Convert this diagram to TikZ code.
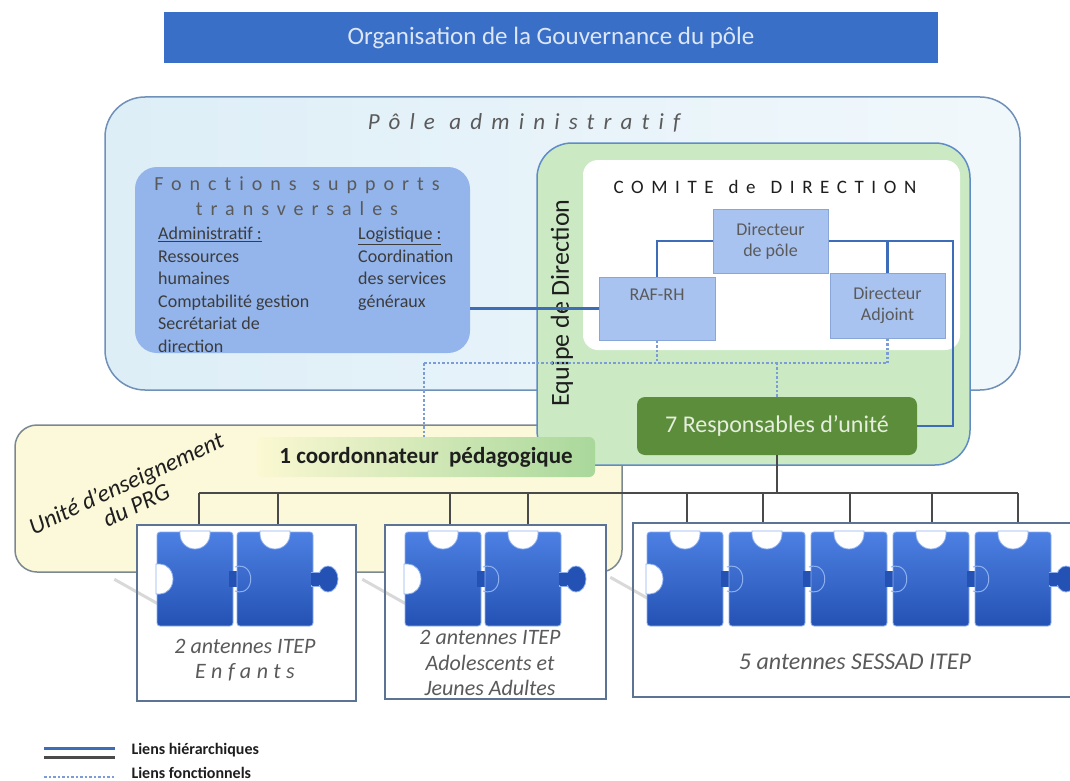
\documentclass[tikz,border=0pt]{standalone}
\usepackage{fontspec}
\setmainfont{Carlito}
\newfontfamily\espace[LetterSpace=40, Ligatures=NoCommon]{Carlito}
\newfontfamily\espacelarge[LetterSpace=25, Ligatures=NoCommon]{Carlito}
\usepackage{tikz}
\usetikzlibrary{positioning,calc}

\definecolor{titreBleu}{HTML}{3A6FC8}
\definecolor{titreTexte}{HTML}{DCE6F5}
\definecolor{poleFond}{HTML}{DDEEF7}
\definecolor{poleBord}{HTML}{6F90B8}
\definecolor{foncFond}{HTML}{93B5EC}
\definecolor{texteGris}{HTML}{5A5A5A}
\definecolor{texteFonce}{HTML}{3C3C3C}
\definecolor{texteNoir}{HTML}{1E1E1E}
\definecolor{uniteFond}{HTML}{FBF9DA}
\definecolor{uniteBord}{HTML}{7C8890}
\definecolor{equipeFond}{HTML}{CBEAC4}
\definecolor{equipeBord}{HTML}{5F8CC6}
\definecolor{posteFond}{HTML}{A9C3F0}
\definecolor{posteBord}{HTML}{8AA6D8}
\definecolor{respFond}{HTML}{5B8D3B}
\definecolor{respTexte}{HTML}{E6EEDD}
\definecolor{coordG}{HTML}{FBF8D2}
\definecolor{coordD}{HTML}{A9D89B}
\definecolor{lienBleu}{HTML}{3D6DB8}
\definecolor{lienNoir}{HTML}{4A4A4A}
\definecolor{lienPoint}{HTML}{7C9CD8}
\definecolor{panBord}{HTML}{5C7393}
\definecolor{pzClair}{HTML}{4C80E2}
\definecolor{pzFonce}{HTML}{2452B4}
\definecolor{pzBord}{HTML}{8EB0EE}

% #1 = x of first piece, #2 = step, #3 = number of pieces
\newcommand{\puzzle}[3]{%
  \foreach \k in {1,...,#3}{%
    \pgfmathsetmacro{\px}{#1+(\k-1)*#2}%
    \ifnum\k>1 \path[fill=pzFonce] (\px-8,571) rectangle (\px+2,587); \fi
    \path[draw=pzBord, line width=0.8pt, top color=pzClair, bottom color=pzFonce, rounded corners=3pt] (\px,532) rectangle ++(76,94);
    \path[draw=pzBord, line width=0.8pt, fill=white] (\px+23,531) -- (\px+23,534) arc[start angle=180, end angle=360, x radius=15pt, y radius=15pt] -- (\px+53,531) -- cycle;
    \ifnum\k>1 \path[draw=pzBord, line width=1pt] (\px-2,567) .. controls (\px+19,560) and (\px+19,598) .. (\px-2,591); \fi
  }%
  \path[draw=pzBord, line width=0.8pt, fill=white] (#1-1,564) -- (#1+3,564) arc[start angle=90, end angle=-90, x radius=13pt, y radius=15pt] -- (#1-1,594) -- cycle;
  \pgfmathsetmacro{\pz}{#1+(#3-1)*#2+76}%
  \path[fill=pzFonce, draw=pzBord, line width=0.8pt] (\pz-2,572) rectangle ++(9,14);
  \path[fill=pzFonce, draw=pzBord, line width=0.8pt] (\pz+15,579) ellipse (10pt and 13pt);
  \path[fill=pzFonce] (\pz-2,573) rectangle ++(10,12);
}

\begin{document}
\begin{tikzpicture}[x=1pt,y=-1pt,
  cadre/.style={inner sep=0pt},
  poste/.style={draw=posteBord, fill=posteFond, line width=1pt, inner sep=0pt, minimum width=115pt, minimum height=64pt, align=center, font=\fontsize{18}{21}\selectfont, text=texteGris},
  panneau/.style={draw=panBord, fill=white, line width=1.5pt, inner sep=0pt},
  antenne/.style={font=\fontsize{22}{25.5}\selectfont\itshape, text=texteGris, align=center},
  colonne/.style={inner sep=0pt, anchor=north west, align=left, font=\fontsize{18}{22.5}\selectfont, text=texteFonce},
  legende/.style={anchor=west, font=\bfseries\fontsize{16}{18}\selectfont, text=texteNoir},
  lienB/.style={draw=lienBleu, line width=2.5pt},
  lienN/.style={draw=lienNoir, line width=2pt},
  lienF/.style={draw=lienPoint, line width=2.5pt, dash pattern=on 2.5pt off 2pt}]
\useasboundingbox (0,0) rectangle (1070,781);

\path node[cadre, fill=titreBleu, minimum width=774pt, minimum height=51pt, text=titreTexte, font=\fontsize{25}{28}\selectfont] (titre) at (551,37.5) {Organisation de la Gouvernance du pôle};

\path node[cadre, rounded corners=40pt, draw=poleBord, line width=1.5pt, left color=poleFond, right color=poleFond!40!white, minimum width=915pt, minimum height=293pt] (pole) at (562.5,243.5) {};
\path node[font=\espace\fontsize{23}{26}\selectfont\itshape, text=texteGris] (poleTitre) at (524,123) {Pôle administratif};

\path node[cadre, rounded corners=22pt, fill=foncFond, minimum width=335pt, minimum height=186pt] (fonc) at (302.5,260) {};
\path node[align=center, font=\espace\fontsize{20}{25}\selectfont, text=texteGris] (foncTitre) at (297,196) {Fonctions\hspace{3pt} supports\\transversales};
\path node[colonne] (admin) at (158,227) {\underline{Administratif :}\\Ressources\\humaines\\Comptabilité gestion\\Secrétariat de\\direction};
\path node[colonne] (logi) at (358,227) {\underline{Logistique :}\\Coordination\\des services\\généraux};

\path node[cadre, rounded corners=22pt, draw=uniteBord, line width=1.5pt, fill=uniteFond, minimum width=607pt, minimum height=147pt] (unite) at (318.5,498.5) {};
\path node[rotate=25, align=center, font=\fontsize{24}{24}\selectfont\itshape, text=texteNoir] (uniteTitre) at (131,494) {Unité d’enseignement\\du PRG};

\path node[cadre, rounded corners=35pt, draw=equipeBord, line width=1.5pt, fill=equipeFond, minimum width=433pt, minimum height=322pt] (equipe) at (753.5,304) {};
\path node[rotate=90, font=\fontsize{26}{28}\selectfont, text=texteNoir] (equipeTitre) at (562,303) {Equipe de Direction};
\path node[cadre, rounded corners=15pt, fill=white, minimum width=377pt, minimum height=190pt] (comite) at (771.5,255) {};
\path node[font=\espace\fontsize{19}{22}\selectfont, text=texteNoir] (comiteTitre) at (765,187) {COMITE\hspace{3pt} de\hspace{3pt} DIRECTION};

\path node[cadre, rounded corners=8pt, fill=respFond, minimum width=280pt, minimum height=58pt, text=respTexte, font=\fontsize{24}{26}\selectfont] (resp) at (777,426) {7 Responsables d’unité};
\path node[poste] (dp) at (770.5,241) {Directeur\\de pôle};
\path node[poste, minimum width=116pt, minimum height=63pt] (raf) at (657,308.5) {RAF-RH\\\strut};
\path node[poste, minimum height=65pt] (adj) at (887.5,305.5) {Directeur\\Adjoint};

\coordinate (coin) at (953,241);
\path[lienB] (fonc.east |- raf.west) -- (raf.west);
\path[lienB] (dp.west) -| (raf.north);
\path[lienB] (dp.east) -| (adj.north);
\path[lienB] (dp.east) -- (coin) |- (resp.east);

\path node[cadre, rounded corners=6pt, left color=coordG, right color=coordD, minimum width=338pt, minimum height=40pt, font=\bfseries\fontsize{23}{26}\selectfont, text=texteNoir] (coord) at (426,457) {1 coordonnateur~ pédagogique};

\coordinate (fl) at (424,363);
\path[lienF] (raf.south) -- (raf.south |- fl);
\path[lienF] (adj.south) -- (adj.south |- fl);
\path[lienF] (fl) -- (fl -| adj.south);
\path[lienF] (resp.north) -- (resp.north |- fl);
\path[lienF] (fl) -- (fl |- coord.north);

\path node[panneau, minimum width=219pt, minimum height=176pt] (pan1) at (246.5,613) {};
\path node[panneau, minimum width=221pt, minimum height=174pt] (pan2) at (495.5,612) {};
\path node[panneau, minimum width=452pt, minimum height=174pt] (pan3) at (859,610) {};

\foreach \i/\x/\p in {1/199/pan1, 2/278/pan1, 3/450/pan2, 4/528/pan2, 5/687/pan3, 6/763/pan3, 7/850/pan3, 8/932/pan3, 9/1018/pan3}{
  \coordinate (b\i) at (\x,493);
  \path[lienN] (b\i) -- (b\i |- \p.north);
}
\path[lienN] (b1) -- (b9);
\path[lienN] (resp.south) -- (resp.south |- b1);

\foreach \p in {pan1,pan2,pan3}
  \path[draw=gray, opacity=0.3, line width=3pt] ($(\p.north west)+(-22,55)$) -- ++(64,36);

\puzzle{157}{80}{2}
\puzzle{405}{80}{2}
\puzzle{647}{82}{5}

\path node[antenne] (txt1) at (245,660) {2 antennes ITEP\\{\espacelarge Enfants}};
\path node[antenne] (txt2) at (490,663) {2 antennes ITEP\\Adolescents et\\Jeunes Adultes};
\path node[antenne, font=\fontsize{24}{26}\selectfont\itshape] (txt3) at (855,662) {5 antennes SESSAD ITEP};

\coordinate (lgA) at (44,748);
\coordinate (lgB) at (44,757);
\coordinate (lgC) at (44,777);
\path[lienB, line width=3pt] (lgA) -- ++(71,0);
\path[lienN, line width=3pt] (lgB) -- ++(71,0);
\path[lienF] (lgC) -- ++(71,0);
\path node[legende] (lgH) at (128,750) {Liens hiérarchiques};
\path node[legende] (lgF) at (128,773) {Liens fonctionnels};
\end{tikzpicture}
\end{document}
